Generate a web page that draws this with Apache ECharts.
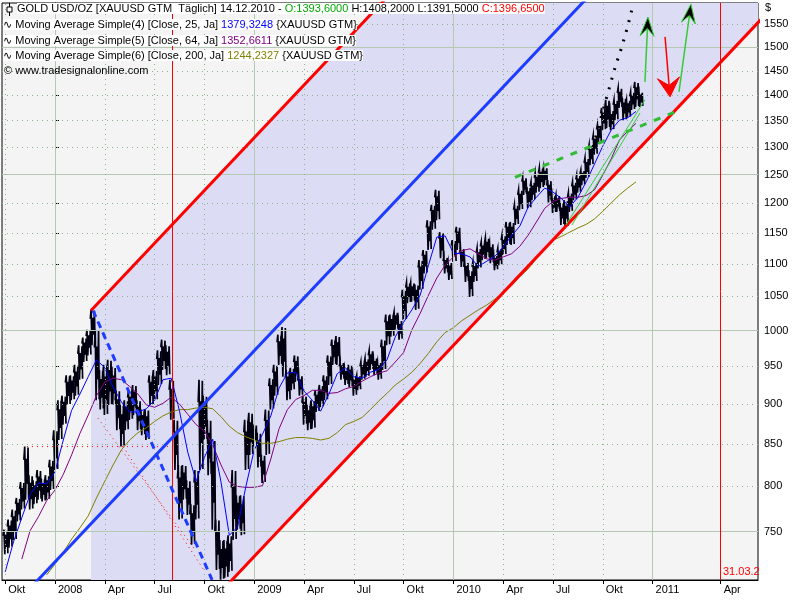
<!DOCTYPE html>
<html>
<head>
<meta charset="utf-8">
<script src="https://cdn.jsdelivr.net/npm/echarts@6.0.0/dist/echarts.min.js"></script>
<style>
html, body { margin: 0; padding: 0; background: #fff; }
#main { width: 800px; height: 600px; }
</style>
</head>
<body>
<div id="main"></div>
<script>
// x axis unit: trading months counted from Jan 2008 (Okt 2007 = -3)
var startMonth = -3;
var priceStep = 0.25;
var maStep = 0.5;

// daily range of GOLD, sampled every quarter month
var priceLow = [726,733,741,761,774,785,774,780,785,783,
  785,796,819,855,874,899,905,911,932,956,
  965,979,905,893,886,899,899,867,847,867,
  880,886,867,861,855,899,905,925,945,938,
  880,819,763,785,768,736,763,819,855,813,
  752,710,700,702,708,741,752,746,819,837,
  847,822,804,837,893,911,952,936,905,918,
  929,911,874,867,869,890,896,905,925,952,
  952,932,925,922,911,918,932,936,945,938,
  932,945,979,991,1001,987,1015,1040,1042,1030,
  1060,1085,1122,1155,1171,1109,1085,1075,1103,1122,
  1095,1072,1049,1072,1093,1106,1109,1101,1090,1098,
  1114,1130,1130,1163,1188,1214,1191,1205,1218,1226,
  1231,1201,1183,1185,1163,1160,1185,1205,1218,1231,
  1244,1267,1286,1307,1332,1336,1332,1351,1375,1351,
  1356,1371,1377,1377];
var priceHigh = [752,763,774,787,805,847,813,807,819,809,
  813,831,867,905,911,938,938,952,979,990,
  1001,1030,1001,945,952,959,949,918,899,905,
  918,925,905,893,893,938,945,972,987,979,
  932,880,825,825,807,780,819,932,911,880,
  855,763,741,741,746,819,790,790,880,889,
  874,864,837,893,934,952,994,1005,945,948,
  965,938,911,899,905,918,925,938,965,987,
  992,956,948,952,938,938,956,961,972,962,
  956,987,1023,1023,1027,1015,1060,1071,1071,1068,
  1106,1122,1171,1197,1223,1151,1111,1103,1138,1160,
  1125,1103,1090,1103,1125,1135,1142,1133,1114,1125,
  1146,1168,1168,1197,1223,1245,1228,1237,1253,1262,
  1263,1240,1214,1214,1200,1205,1218,1237,1249,1258,
  1280,1304,1323,1342,1375,1391,1371,1391,1415,1395,
  1391,1407,1427,1407];

// moving averages, sampled every half month
var ma25 = [708,739,765,791,804,803,817,855,892,913,
  936,959,948,922,903,890,890,894,905,932,
  934,891,840,806,834,856,805,746,755,800,
  843,862,885,921,941,942,917,905,891,913,
  940,948,936,934,942,946,959,991,1012,1030,
  1052,1098,1143,1145,1117,1116,1111,1096,1104,1112,
  1127,1145,1161,1193,1210,1226,1219,1208,1193,1210,
  1237,1269,1302,1332,1351,1356,1368];
var ma64 = [null,null,721,751,766,784,796,814,837,863,
  886,911,929,934,932,923,913,899,896,901,
  909,900,887,874,866,849,825,805,800,799,
  799,801,832,869,893,906,911,918,918,914,
  915,920,923,930,936,941,944,956,969,1001,
  1025,1052,1078,1098,1111,1121,1124,1116,1108,1106,
  1111,1116,1128,1146,1168,1191,1203,1208,1210,1210,
  1213,1223,1249,1278,1313,1330,1345];
var ma200 = [null,null,null,null,null,705,716,728,742,754,
  767,787,806,825,843,855,864,870,878,885,
  890,893,893,895,896,894,884,872,864,859,
  855,851,851,853,856,858,858,857,855,857,
  864,874,878,883,893,904,914,925,933,942,
  954,968,984,997,1004,1014,1022,1030,1037,1046,
  1055,1066,1080,1092,1109,1125,1138,1144,1151,1158,
  1164,1173,1186,1200,1214,1226,1237];

var xTickPos = [-3,0,3,6,9,12,15,18,21,24,27,30,33,36,40.1];
var xTickLabels = ['Okt','2008','Apr','Jul','Okt','2009','Apr','Jul','Okt','2010','Apr','Jul','Okt','2011','Apr'];
var xMajor = [0,12,24,36];
var xMinor = [-3,3,6,9,15,18,21,27,30,33];
var yTicks = [750,800,850,900,950,1000,1050,1100,1150,1200,1250,1300,1350,1400,1450,1500,1550];
var yMajor = [750,1000,1250,1500];

// drawn trend lines [month, price]
var upperLine = [[2.17,1029],[20.78,1643]];
var lowerLine = [[9.52,680],[43.07,1582]];
var midLine = [[-2.11,681],[32.83,1641]];
var shadeArea = [[2.17,1029],[44,2948],[44,1619],[2.17,565]];
var fallLine = [[2.29,1029],[9.46,700]];
var redDot1 = [[2.59,882],[8.43,731]];
var redDot2 = [[4.10,847],[9.04,708]];
var redFlat = [[-1.69,847],[7.05,847]];
var blackDots = [[32.41,1300],[33.19,1391],[33.73,1456],[34.16,1502],[34.52,1548],[34.82,1593]];
var neckLine = [[27.71,1245],[37.35,1367]];
var greenThin1 = [[30.78,1163],[35.54,1391]];
var greenThin2 = [[31.14,1163],[35.24,1365]];
var arrows = [[35.54,1427,35.72,1566],[37.59,1407,38.31,1595],[36.75,1522,37.05,1397]];
var arrowRed = [false,false,true];
var redMarks = [7.05, 40.1];

var font = 'Liberation Sans, DejaVu Sans, sans-serif';

var chart = echarts.init(document.getElementById('main'));

function seriesPoints(arr, step) {
  var out = [];
  arr.forEach(function (v, i) {
    if (v != null) out.push([startMonth + i * step, v]);
  });
  return out;
}

function trend(data, color, width, type, z) {
  return {
    type: 'line', data: data, showSymbol: false, symbol: 'none', silent: true,
    z: z || 5, animation: false,
    lineStyle: { color: color, width: width, type: type || 'solid' }
  };
}

var solidGrid = { color: '#b4c8b4', width: 1, type: 'solid' };
var dotGrid = { color: '#8fb08f', width: 1, type: [1, 4] };

var gridLines = [];
yTicks.forEach(function (v) {
  gridLines.push({ yAxis: v, lineStyle: yMajor.indexOf(v) >= 0 ? solidGrid : dotGrid });
});
xMajor.forEach(function (v) { gridLines.push({ xAxis: v, lineStyle: solidGrid }); });
xMinor.forEach(function (v) { gridLines.push({ xAxis: v, lineStyle: dotGrid }); });

chart.setOption({
  animation: false,
  grid: {
    left: 2, right: 42, top: 3, bottom: 20,
    show: true, backgroundColor: '#f4f4f4', borderColor: '#000', borderWidth: 1
  },
  xAxis: {
    type: 'value', min: -3.193, max: 42.349,
    axisLine: { show: true, onZero: false, lineStyle: { color: '#000' } },
    axisTick: { show: true, length: 4, lineStyle: { color: '#000' }, customValues: xTickPos },
    axisLabel: {
      customValues: xTickPos, align: 'left', margin: 4, padding: [0, 0, 0, 3],
      color: '#000', fontSize: 11, fontFamily: font,
      formatter: function (v) {
        for (var i = 0; i < xTickPos.length; i++) {
          if (Math.abs(xTickPos[i] - v) < 1e-6) return xTickLabels[i];
        }
        return '';
      }
    },
    splitLine: { show: false }
  },
  yAxis: {
    type: 'log', logBase: 10, min: 699.8, max: 1597.7, position: 'right',
    axisLine: { show: true, lineStyle: { color: '#000' } },
    axisTick: { show: true, length: 4, lineStyle: { color: '#000' }, customValues: yTicks },
    axisLabel: {
      customValues: yTicks, margin: 6, color: '#000', fontSize: 11, fontFamily: font,
      formatter: function (v) { return String(Math.round(v)); }
    },
    splitLine: { show: false }
  },
  graphic: [
    { type: 'line', shape: { x1: 9.5, y1: 3, x2: 9.5, y2: 16 }, style: { stroke: '#000', lineWidth: 1 }, z: 100 },
    { type: 'rect', shape: { x: 7, y: 7, width: 5, height: 5 }, style: { fill: '#fff', stroke: '#000', lineWidth: 1 }, z: 101 },
    {
      type: 'text', left: 17, top: 3, z: 100,
      style: {
        text: '{b|GOLD USD/OZ [XAUUSD GTM  Täglich] 14.12.2010 - }{g|O:1393,6000}{b| H:1408,2000 L:1391,5000 }{r|C:1396,6500}',
        font: '11px ' + font, fill: '#000', backgroundColor: '#fff',
        rich: { b: { fill: '#000' }, g: { fill: '#00aa00' }, r: { fill: '#ff0000' } }
      }
    },
    {
      type: 'text', left: 3, top: 19, z: 100,
      style: {
        text: '∿ Moving Average Simple(4) [Close, 25, Ja] {v|1379,3248} {XAUUSD GTM}',
        font: '11px ' + font, fill: '#000', backgroundColor: '#fff',
        rich: { v: { fill: '#0000ff' } }
      }
    },
    {
      type: 'text', left: 3, top: 35, z: 100,
      style: {
        text: '∿ Moving Average Simple(5) [Close, 64, Ja] {v|1352,6611} {XAUUSD GTM}',
        font: '11px ' + font, fill: '#000', backgroundColor: '#fff',
        rich: { v: { fill: '#800080' } }
      }
    },
    {
      type: 'text', left: 3, top: 50, z: 100,
      style: {
        text: '∿ Moving Average Simple(6) [Close, 200, Ja] {v|1244,2327} {XAUUSD GTM}',
        font: '11px ' + font, fill: '#000', backgroundColor: '#fff',
        rich: { v: { fill: '#808000' } }
      }
    },
    {
      type: 'text', left: 4, top: 65, z: 100,
      style: { text: '© www.tradesignalonline.com', font: '11px ' + font, fill: '#000' }
    },
    { type: 'text', left: 765, top: 2, z: 100, style: { text: '$', font: '11px ' + font, fill: '#000' } },
    { type: 'text', left: 723, top: 566, z: 100, style: { text: '31.03.2', font: '11px ' + font, fill: '#ff0000' } }
  ],
  series: [
    {
      type: 'custom', z: 1, clip: true, silent: true,
      renderItem: function (params, api) {
        return {
          type: 'polygon',
          shape: { points: shadeArea.map(function (p) { return api.coord(p); }) },
          style: { fill: '#dcdcf4' }
        };
      },
      data: [[0, 1000]]
    },
    {
      type: 'line', data: [], silent: true, z: 2,
      markLine: {
        symbol: ['none', 'none'], silent: true, animation: false,
        label: { show: false }, data: gridLines
      }
    },
    {
      // each sample is drawn as a jagged run of bars between its low and high
      type: 'custom', z: 3, clip: true, silent: true,
      renderItem: function (params, api) {
        var m = api.value(0);
        var top = api.coord([m, api.value(2)])[1];
        var bot = api.coord([m, api.value(1)])[1];
        var l = api.coord([m - priceStep / 2, api.value(1)])[0];
        var r = api.coord([m + priceStep / 2, api.value(1)])[0];
        var w = r - l;
        var mid1 = top + (bot - top) * 0.25, mid2 = top + (bot - top) * 0.7;
        var pts = [[l, mid1], [l + w * 0.2, top], [l + w * 0.4, bot], [l + w * 0.6, mid1 - 1],
          [l + w * 0.8, mid2], [r, top + 1], [r + 0.6, bot - 1]];
        return {
          type: 'polyline',
          shape: { points: pts },
          style: { stroke: '#000010', lineWidth: 1.7, fill: null }
        };
      },
      encode: { x: 0, y: [1, 2] },
      data: priceLow.map(function (lo, i) { return [startMonth + i * priceStep, lo, priceHigh[i]]; })
    },
    trend(seriesPoints(ma200, maStep), '#808000', 1, 'solid', 4),
    trend(seriesPoints(ma64, maStep), '#800080', 1, 'solid', 4),
    trend(seriesPoints(ma25, maStep), '#0000ff', 1, 'solid', 4),
    trend(redFlat, '#ff0000', 1, [1, 4]),
    trend(redDot1, '#ff0000', 1, [1, 4]),
    trend(redDot2, '#ff0000', 1, [1, 4]),
    trend(fallLine, '#1e3cff', 3, [7, 5]),
    trend(midLine, '#1e3cff', 3),
    trend(upperLine, '#ff0000', 3),
    trend(lowerLine, '#ff0000', 3),
    trend(neckLine, '#33bb33', 3, [7, 8]),
    trend(greenThin1, '#33cc33', 1),
    trend(greenThin2, '#33cc33', 1),
    trend(blackDots, '#000000', 3, [2, 8]),
    {
      type: 'custom', z: 6, clip: false, silent: true,
      renderItem: function (params, api) {
        var a = api.coord([api.value(0), api.value(1)]);
        var b = api.coord([api.value(2), api.value(3)]);
        var red = arrowRed[params.dataIndex];
        var dx = b[0] - a[0], dy = b[1] - a[1];
        var len = Math.sqrt(dx * dx + dy * dy);
        var ux = dx / len, uy = dy / len, nx = -uy, ny = ux;
        var L = red ? 19 : 19, W = red ? 11 : 7;
        var bx = b[0] - ux * L, by = b[1] - uy * L;
        var kx = b[0] - ux * L * 0.6, ky = b[1] - uy * L * 0.6;
        var color = red ? '#ff0000' : '#33cc33';
        return {
          type: 'group',
          children: [
            { type: 'line', shape: { x1: a[0], y1: a[1], x2: kx, y2: ky }, style: { stroke: color, lineWidth: 1.5 } },
            {
              type: 'polygon',
              shape: { points: [b, [bx + nx * W, by + ny * W], [kx, ky], [bx - nx * W, by - ny * W]] },
              style: { fill: red ? '#ff0000' : '#000000', stroke: color, lineWidth: 1 }
            }
          ]
        };
      },
      data: arrows
    },
    {
      type: 'line', data: [], silent: true, z: 6,
      markLine: {
        symbol: ['none', 'none'], silent: true, animation: false, label: { show: false },
        lineStyle: { color: '#ff0000', width: 1, type: 'solid' },
        data: redMarks.map(function (v) { return { xAxis: v }; })
      }
    }
  ]
});
</script>
</body>
</html>
